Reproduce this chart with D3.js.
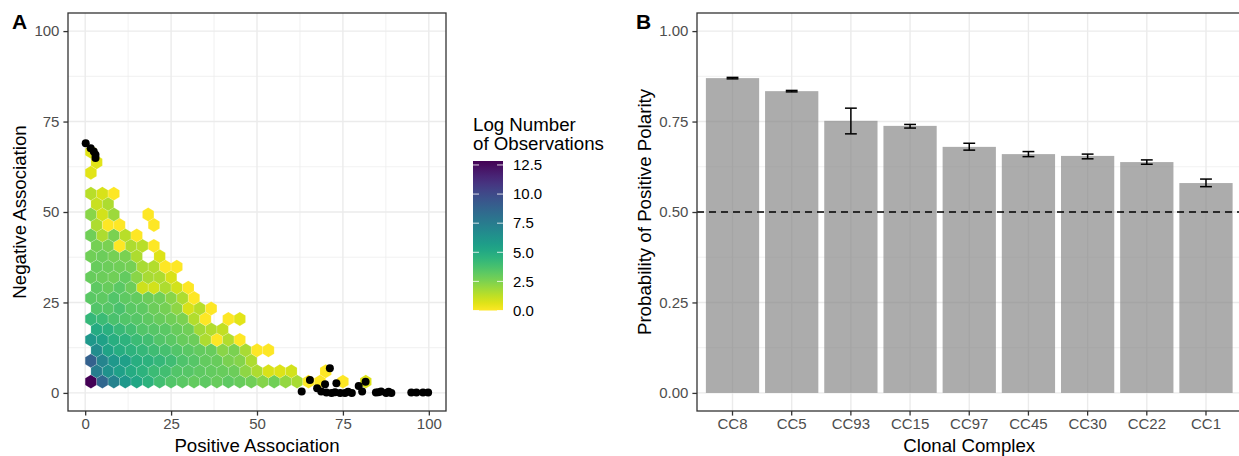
<!DOCTYPE html>
<html>
<head>
<meta charset="utf-8">
<script src="https://cdn.jsdelivr.net/npm/d3@7"></script>
<style>
  body { margin: 0; background: #fff; }
  svg { display: block; font-family: "Liberation Sans", Arial, sans-serif; }
  .axis .tick text { fill: #4d4d4d; font-size: 15px; }
  .axis .tick line { stroke: #333; stroke-width: 1.3; }
  .axis-title { font-size: 18.7px; fill: #000; }
  .panel-tag { font-size: 21px; font-weight: bold; }
</style>
</head>
<body>
<svg id="chart" width="1239" height="456"></svg>
<script>
// ---- Panel A: hexbin of log counts (rows of the hex grid, bottom row first) ----
const hexBinWidth = 3.333;
const hexOrigin = [1.667, 3.12];
const hexLogCounts = [
  [12.84, 8.6, 7.2, 6.0, 5.2, 4.6, 3.9, 3.5, 3.3, 3.1, 3.2, 3.0, 3.2, 3.0, 2.8, 2.4, 2.8, 2.1, 1.7, 0, 0, null, 0, null, 0.7],
  [7.4, 6.3, 5.6, 5.0, 4.6, 4.1, 3.9, 3.5, 3.4, 3.2, 3.1, 3.0, 2.9, 2.2, 1.6, 0.8, 0.7, 0.9, null, null, 0],
  [8.9, 7.0, 6.0, 5.6, 4.8, 4.6, 4.3, 4.0, 3.6, 3.4, 3.1, 3.0, 2.6, 2.4, 1.6],
  [6.6, 5.4, 4.9, 4.6, 4.3, 4.0, 3.8, 3.5, 3.3, 3.1, 3.0, 2.3, 2.6, 1.7, 0, 0],
  [6.0, 5.5, 4.8, 4.6, 4.1, 3.9, 3.5, 3.3, 3.0, 2.9, 1.6, 0, 1.5, 0],
  [5.0, 4.7, 4.2, 3.9, 3.5, 3.4, 3.3, 3.0, 2.8, 1.8, 1.5, 1.2],
  [4.3, 4.1, 3.7, 3.5, 3.4, 3.2, 3.0, 2.8, 2.6, 1.5, 0, null, 0, 0.6],
  [3.5, 3.4, 3.7, 3.3, 3.2, 2.9, 2.7, 2.2, 0.8, 1.4, 0],
  [3.3, 3.2, 3.5, 3.2, 3.1, 2.9, 2.8, 2.3, 1.6, 0],
  [3.2, 3.0, 3.3, 2.9, 1.0, 0.9, 1.6, 0.9, 0],
  [3.0, 2.9, 2.8, 3.1, 2.3, 1.7, 1.6, 0.8],
  [3.0, 2.9, 2.8, 2.7, 1.7, 1.5, 0, 0],
  [2.8, 2.9, 2.7, 2.6, 1.6, null, 0.7],
  [2.7, 2.6, 0, 1.6, 1.4, 0],
  [2.8, 1.6, 2.6, 1.4, 0],
  [1.6, 0, 0, null, null, 0],
  [2.3, 0.9, 1.9, null, null, 0],
  [1.1, 1.6],
  [1.4, 0.8, 0],
  [],
  [0.6],
  [0.6],
  [0.6]
];
const logMax = 12.84;
const legendTicks = [0, 2.5, 5, 7.5, 10, 12.5];

// black points drawn over the hexes
const pointX = [0.15, 1.6, 2.5, 3.0, 3.0,
  63.0, 65.4, 67.5, 68.7, 69.8, 70.2, 71.2, 71.7, 72.7, 73.1, 74.2, 75.6, 76.5, 77.6,
  79.6, 80.6, 81.6, 84.6, 85.3, 86.1, 87.6, 88.3, 89.1, 94.9, 96.4, 98.3, 99.8];
const pointY = [69.0, 67.6, 66.7, 65.8, 64.9,
  0.4, 3.6, 1.3, 0.4, 2.4, 0.1, 6.8, 0.0, 0.2, 2.7, 0.0, 0.0, 0.3, 0.0,
  1.9, 0.4, 3.1, 0.1, 0.2, 0.4, 0.0, 0.3, 0.0, 0.1, 0.1, 0.1, 0.1];
const assocTicks = [0, 25, 50, 75, 100];
const assocMinor = [12.5, 37.5, 62.5, 87.5];

// ---- Panel B: probability of positive polarity ----
const complexes = ['CC8', 'CC5', 'CC93', 'CC15', 'CC97', 'CC45', 'CC30', 'CC22', 'CC1'];
const polarity = [0.870, 0.834, 0.752, 0.738, 0.680, 0.660, 0.655, 0.638, 0.580];
const polarityLo = [0.868, 0.832, 0.716, 0.732, 0.671, 0.653, 0.647, 0.632, 0.570];
const polarityHi = [0.872, 0.836, 0.787, 0.742, 0.690, 0.667, 0.660, 0.644, 0.591];
const probTicks = [0, 0.25, 0.5, 0.75, 1];
const probMinor = [0.125, 0.375, 0.625, 0.875];

const svg = d3.select('#chart');
const fmt2 = d3.format('.2f');

function drawGrid(g, xs, ys, xMajor, xMinor, yMajor, yMinor, box) {
  g.selectAll('.minor-x').data(xMinor).enter().append('line')
    .attr('x1', d => xs(d)).attr('x2', d => xs(d))
    .attr('y1', box.top).attr('y2', box.bottom)
    .attr('stroke', '#ebebeb').attr('stroke-width', 0.7);
  g.selectAll('.minor-y').data(yMinor).enter().append('line')
    .attr('y1', d => ys(d)).attr('y2', d => ys(d))
    .attr('x1', box.left).attr('x2', box.right)
    .attr('stroke', '#ebebeb').attr('stroke-width', 0.7);
  g.selectAll('.major-x').data(xMajor).enter().append('line')
    .attr('x1', d => xs(d)).attr('x2', d => xs(d))
    .attr('y1', box.top).attr('y2', box.bottom)
    .attr('stroke', '#ebebeb').attr('stroke-width', 1.4);
  g.selectAll('.major-y').data(yMajor).enter().append('line')
    .attr('y1', d => ys(d)).attr('y2', d => ys(d))
    .attr('x1', box.left).attr('x2', box.right)
    .attr('stroke', '#ebebeb').attr('stroke-width', 1.4);
}

// ===== Panel A =====
const boxA = { left: 68, right: 446, top: 13, bottom: 411 };
const xA = d3.scaleLinear().domain([-5, 105]).range([boxA.left, boxA.right]);
const yA = d3.scaleLinear().domain([-5, 105]).range([boxA.bottom, boxA.top]);
const color = d3.scaleSequential(t => d3.interpolateViridis(1 - t)).domain([0, logMax]);

const gA = svg.append('g');
drawGrid(gA, xA, yA, assocTicks, assocMinor, assocTicks, assocMinor, boxA);

const hexes = [];
hexLogCounts.forEach((row, r) => {
  row.forEach((v, k) => {
    if (v === null) return;
    hexes.push({
      cx: hexOrigin[0] + k * hexBinWidth + (r % 2 ? hexBinWidth / 2 : 0),
      cy: hexOrigin[1] + r * hexBinWidth * Math.sqrt(3) / 2,
      v
    });
  });
});
const hdx = hexBinWidth / 2;
const hdy = hexBinWidth / (2 * Math.sqrt(3));
const hexPath = d => {
  const pts = [[hdx, hdy], [0, 2 * hdy], [-hdx, hdy], [-hdx, -hdy], [0, -2 * hdy], [hdx, -hdy]];
  return 'M' + pts.map(p => [xA(d.cx + p[0]), yA(d.cy + p[1])].join(',')).join('L') + 'Z';
};
gA.selectAll('.hex').data(hexes).enter().append('path')
  .attr('class', 'hex')
  .attr('d', hexPath)
  .attr('fill', d => color(d.v))
  .attr('stroke', 'rgba(255,255,255,0.25)')
  .attr('stroke-width', 0.6);

gA.selectAll('.pt').data(pointX).enter().append('circle')
  .attr('cx', d => xA(d))
  .attr('cy', (d, i) => yA(pointY[i]))
  .attr('r', 4)
  .attr('fill', '#000');

gA.append('rect')
  .attr('x', boxA.left).attr('y', boxA.top)
  .attr('width', boxA.right - boxA.left).attr('height', boxA.bottom - boxA.top)
  .attr('fill', 'none').attr('stroke', '#333').attr('stroke-width', 1.3);

gA.append('g').attr('class', 'axis')
  .attr('transform', `translate(0,${boxA.bottom})`)
  .call(d3.axisBottom(xA).tickValues(assocTicks).tickSize(4.6).tickPadding(3))
  .call(g => g.select('.domain').remove());
gA.append('g').attr('class', 'axis')
  .attr('transform', `translate(${boxA.left},0)`)
  .call(d3.axisLeft(yA).tickValues(assocTicks).tickSize(4.6).tickPadding(4))
  .call(g => g.select('.domain').remove());

gA.append('text').attr('class', 'axis-title')
  .attr('x', (boxA.left + boxA.right) / 2).attr('y', 452)
  .attr('text-anchor', 'middle').text('Positive Association');
gA.append('text').attr('class', 'axis-title')
  .attr('transform', `translate(26,${(boxA.top + boxA.bottom) / 2}) rotate(-90)`)
  .attr('text-anchor', 'middle').text('Negative Association');
svg.append('text').attr('class', 'panel-tag').attr('x', 12).attr('y', 29).text('A');

// legend
const legX = 473, legW = 30;
const legY = d3.scaleLinear().domain([0, logMax]).range([310.5, 161]);
const defs = svg.append('defs');
const grad = defs.append('linearGradient').attr('id', 'viridis-bar')
  .attr('x1', 0).attr('x2', 0).attr('y1', 1).attr('y2', 0);
d3.range(0, 1.0001, 0.05).forEach(t => {
  grad.append('stop').attr('offset', t).attr('stop-color', color(t * logMax));
});
const gL = svg.append('g');
gL.append('text').attr('x', legX).attr('y', 130.5).attr('font-size', '18.7px').text('Log Number');
gL.append('text').attr('x', legX).attr('y', 150).attr('font-size', '18.7px').text('of Observations');
gL.append('rect')
  .attr('x', legX).attr('y', legY(logMax))
  .attr('width', legW).attr('height', legY(0) - legY(logMax))
  .attr('fill', 'url(#viridis-bar)');
legendTicks.forEach(t => {
  [[legX, legX + 6], [legX + legW - 6, legX + legW]].forEach(([a, b]) => {
    gL.append('line').attr('x1', a).attr('x2', b)
      .attr('y1', legY(t)).attr('y2', legY(t))
      .attr('stroke', '#fff').attr('stroke-opacity', 0.8).attr('stroke-width', 1);
  });
  gL.append('text').attr('x', legX + legW + 10).attr('y', legY(t))
    .attr('dy', '0.35em').attr('font-size', '15px').text(d3.format('.1f')(t));
});

// ===== Panel B =====
const boxB = { left: 697, right: 1241.5, top: 13, bottom: 411 };
const xB = d3.scaleBand().domain(complexes).range([boxB.left, boxB.right])
  .paddingInner(0.1).paddingOuter(0.15);
const yB = d3.scaleLinear().domain([-0.05, 1.05]).range([boxB.bottom, boxB.top]);
const step = xB.step();
const center = c => xB(c) + xB.bandwidth() / 2;

const gB = svg.append('g');
drawGrid(gB, center, yB, complexes, [], probTicks, probMinor, boxB);

gB.selectAll('.bar').data(complexes).enter().append('rect')
  .attr('class', 'bar')
  .attr('x', d => xB(d))
  .attr('width', xB.bandwidth())
  .attr('y', (d, i) => yB(polarity[i]))
  .attr('height', (d, i) => yB(0) - yB(polarity[i]))
  .attr('fill', '#7f7f7f').attr('fill-opacity', 0.65);

gB.append('line')
  .attr('x1', boxB.left).attr('x2', boxB.right)
  .attr('y1', yB(0.5)).attr('y2', yB(0.5))
  .attr('stroke', '#000').attr('stroke-width', 1.4).attr('stroke-dasharray', '7,5');

const capW = step * 0.2;
complexes.forEach((c, i) => {
  const cx = center(c);
  gB.append('line').attr('x1', cx).attr('x2', cx)
    .attr('y1', yB(polarityLo[i])).attr('y2', yB(polarityHi[i]))
    .attr('stroke', '#000').attr('stroke-width', 1.5);
  [polarityLo[i], polarityHi[i]].forEach(v => {
    gB.append('line').attr('x1', cx - capW / 2).attr('x2', cx + capW / 2)
      .attr('y1', yB(v)).attr('y2', yB(v))
      .attr('stroke', '#000').attr('stroke-width', 1.5);
  });
});

gB.append('rect')
  .attr('x', boxB.left).attr('y', boxB.top)
  .attr('width', boxB.right - boxB.left).attr('height', boxB.bottom - boxB.top)
  .attr('fill', 'none').attr('stroke', '#333').attr('stroke-width', 1.3);

gB.append('g').attr('class', 'axis')
  .attr('transform', `translate(0,${boxB.bottom})`)
  .call(d3.axisBottom(xB).tickSize(4.6).tickPadding(3))
  .call(g => g.select('.domain').remove());
gB.append('g').attr('class', 'axis')
  .attr('transform', `translate(${boxB.left},0)`)
  .call(d3.axisLeft(yB).tickValues(probTicks).tickFormat(fmt2).tickSize(4.6).tickPadding(4))
  .call(g => g.select('.domain').remove());

gB.append('text').attr('class', 'axis-title')
  .attr('x', (boxB.left + boxB.right) / 2).attr('y', 452)
  .attr('text-anchor', 'middle').text('Clonal Complex');
gB.append('text').attr('class', 'axis-title')
  .attr('transform', `translate(651,${(boxB.top + boxB.bottom) / 2}) rotate(-90)`)
  .attr('text-anchor', 'middle').text('Probability of Positive Polarity');
svg.append('text').attr('class', 'panel-tag').attr('x', 636).attr('y', 29).text('B');
</script>
</body>
</html>
